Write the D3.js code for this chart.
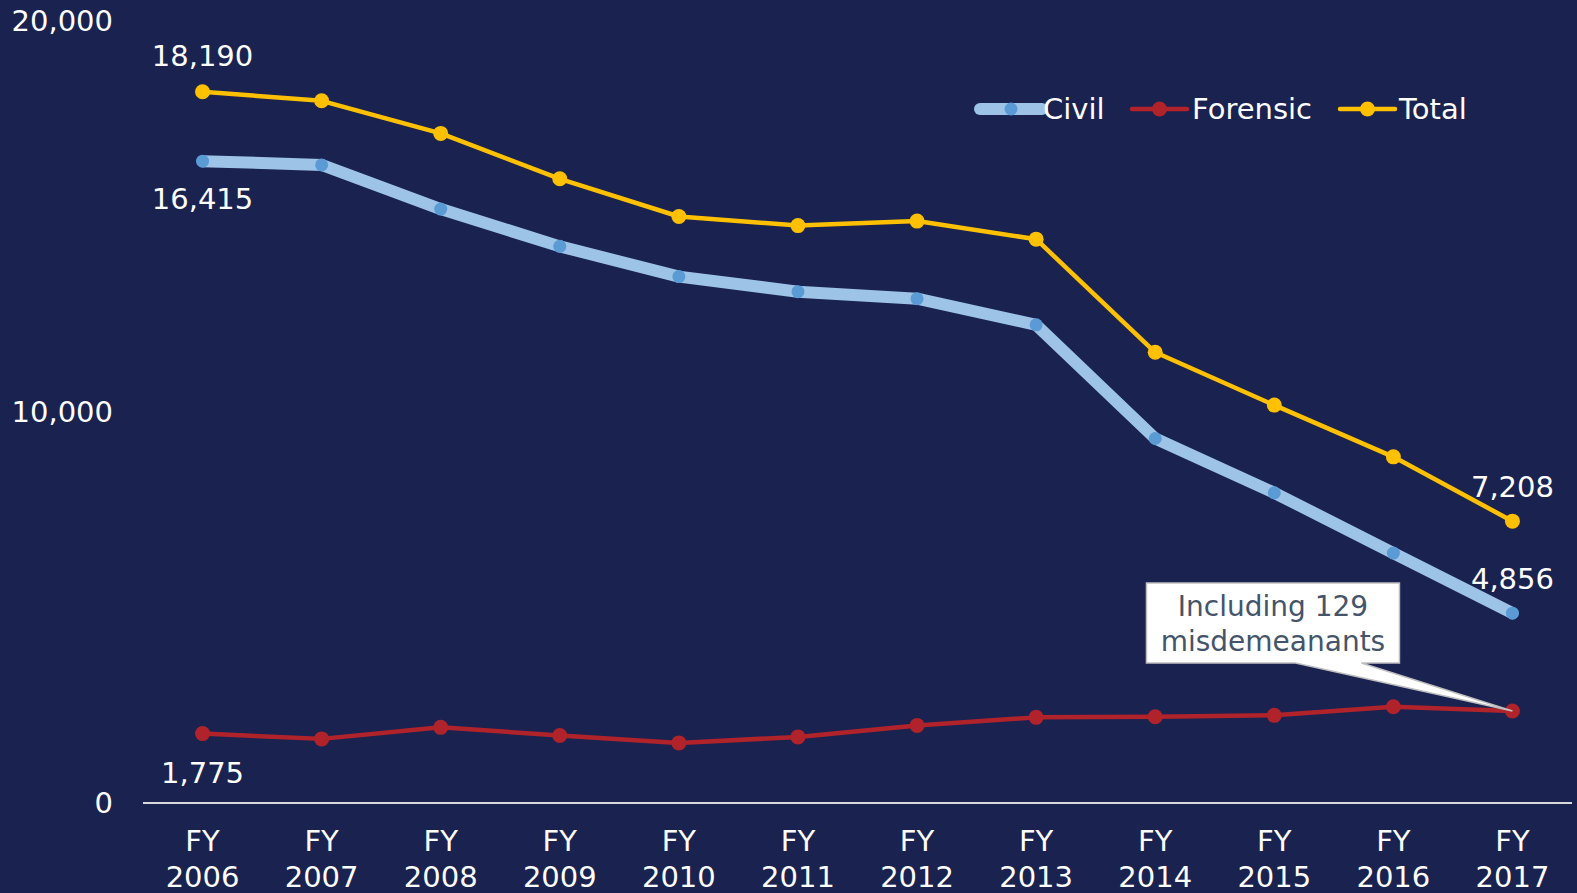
<!DOCTYPE html>
<html>
<head>
<meta charset="utf-8">
<script src="https://cdn.jsdelivr.net/npm/d3@7"></script>
<style>
  body { margin: 0; background: #1a2250; }
  svg { display: block; font-family: "DejaVu Sans", Verdana, sans-serif; }
</style>
</head>
<body>
<div id="chart"></div>
<script>
/** chart data */
let years = ['2006', '2007', '2008', '2009', '2010', '2011', '2012', '2013', '2014', '2015', '2016', '2017'];
let civil = [16415, 16319, 15190, 14236, 13463, 13077, 12898, 12230, 9322, 7934, 6391, 4856];
let forensic = [1775, 1640, 1935, 1728, 1537, 1690, 1985, 2190, 2205, 2242, 2462, 2352];
let total = [18190, 17959, 17125, 15964, 15000, 14767, 14883, 14420, 11527, 10176, 8853, 7208];
let yTicks = [0, 10000, 20000];
let calloutText = ['Including 129', 'misdemeanants'];

let width = 1577;
let height = 893;

let svg = d3.select('#chart')
  .append('svg')
  .attr('width', width)
  .attr('height', height);

svg.append('rect')
  .attr('width', width)
  .attr('height', height)
  .attr('fill', '#1a2250');

/** scales */
let x = d3.scaleBand()
  .domain(years)
  .range([143, 1572]);
let cx = d => x(d) + x.bandwidth() / 2;

let y = d3.scaleLinear()
  .domain([0, 20000])
  .range([803, 21]);

let fmt = d3.format(',');

/** y labels (no axis line) */
svg.selectAll('.ytick')
  .data(yTicks)
  .enter()
  .append('text')
  .attr('class', 'ytick')
  .attr('x', 113)
  .attr('y', d => y(d))
  .attr('dy', '0.35em')
  .attr('text-anchor', 'end')
  .attr('fill', '#ffffff')
  .attr('font-size', 29)
  .text(d => fmt(d));

/** x axis baseline */
svg.append('line')
  .attr('x1', x.range()[0])
  .attr('x2', x.range()[1])
  .attr('y1', y(0))
  .attr('y2', y(0))
  .attr('stroke', '#d9d9d9')
  .attr('stroke-width', 2);

let xl = svg.selectAll('.xtick')
  .data(years)
  .enter()
  .append('text')
  .attr('class', 'xtick')
  .attr('text-anchor', 'middle')
  .attr('fill', '#ffffff')
  .attr('font-size', 29);
xl.append('tspan').attr('x', d => cx(d)).attr('y', 851).text('FY');
xl.append('tspan').attr('x', d => cx(d)).attr('y', 887).text(d => d);

/** series */
let series = [
  { name: 'Civil', values: civil, line: '#9dc3e6', width: 12, dot: '#5b9bd5', r: 6.5 },
  { name: 'Forensic', values: forensic, line: '#b0232a', width: 4.5, dot: '#b0232a', r: 7.5 },
  { name: 'Total', values: total, line: '#ffc000', width: 4.5, dot: '#ffc000', r: 7.5 }
];

let line = d3.line()
  .x((d, i) => cx(years[i]))
  .y(d => y(d));

series.forEach(s => {
  svg.append('path')
    .datum(s.values)
    .attr('d', line)
    .attr('fill', 'none')
    .attr('stroke', s.line)
    .attr('stroke-width', s.width)
    .attr('stroke-linejoin', 'round')
    .attr('stroke-linecap', 'round');
  svg.selectAll('.dot-' + s.name)
    .data(s.values)
    .enter()
    .append('circle')
    .attr('cx', (d, i) => cx(years[i]))
    .attr('cy', d => y(d))
    .attr('r', s.r)
    .attr('fill', s.dot);
});

/** data labels: first and last */
let labels = [
  { v: total[0], i: 0, dy: -36 },
  { v: civil[0], i: 0, dy: 38 },
  { v: forensic[0], i: 0, dy: 39 },
  { v: total[11], i: 11, dy: -34 },
  { v: civil[11], i: 11, dy: -34 }
];
svg.selectAll('.dlabel')
  .data(labels)
  .enter()
  .append('text')
  .attr('x', d => cx(years[d.i]))
  .attr('y', d => y(d.v) + d.dy)
  .attr('dy', '0.35em')
  .attr('text-anchor', 'middle')
  .attr('fill', '#ffffff')
  .attr('font-size', 29)
  .text(d => fmt(d.v));

/** callout for forensic FY2017 */
let tipX = cx(years[11]);
let tipY = y(forensic[11]);
let bx = tipX - 366, by = tipY - 128, bw = 253, bh = 80;
svg.append('path')
  .attr('d', `M${bx},${by} H${bx + bw} V${by + bh} H${bx + 215} L${tipX},${tipY} L${bx + 149},${by + bh} H${bx} Z`)
  .attr('fill', '#ffffff')
  .attr('stroke', '#bfbfbf')
  .attr('stroke-width', 1.5);
svg.selectAll('.callout')
  .data(calloutText)
  .enter()
  .append('text')
  .attr('x', bx + bw / 2)
  .attr('y', (d, i) => by + 23 + i * 35)
  .attr('dy', '0.35em')
  .attr('text-anchor', 'middle')
  .attr('fill', '#44546a')
  .attr('font-size', 28)
  .text(d => d);

/** legend */
let legendX = [980, 1132, 1340];
let legend = svg.selectAll('.legend')
  .data(series)
  .enter()
  .append('g')
  .attr('transform', (d, i) => `translate(${legendX[i]},109)`);
legend.append('line')
  .attr('x1', 0)
  .attr('x2', (d, i) => i === 0 ? 62 : 55)
  .attr('stroke', d => d.line)
  .attr('stroke-width', d => d.width)
  .attr('stroke-linecap', 'round');
legend.append('circle')
  .attr('cx', (d, i) => i === 0 ? 31 : 27.5)
  .attr('r', d => d.r)
  .attr('fill', d => d.dot);
legend.append('text')
  .attr('x', (d, i) => i === 0 ? 63 : i === 1 ? 60 : 59)
  .attr('dy', '0.35em')
  .attr('fill', '#ffffff')
  .attr('font-size', 29)
  .text(d => d.name);
</script>
</body>
</html>
